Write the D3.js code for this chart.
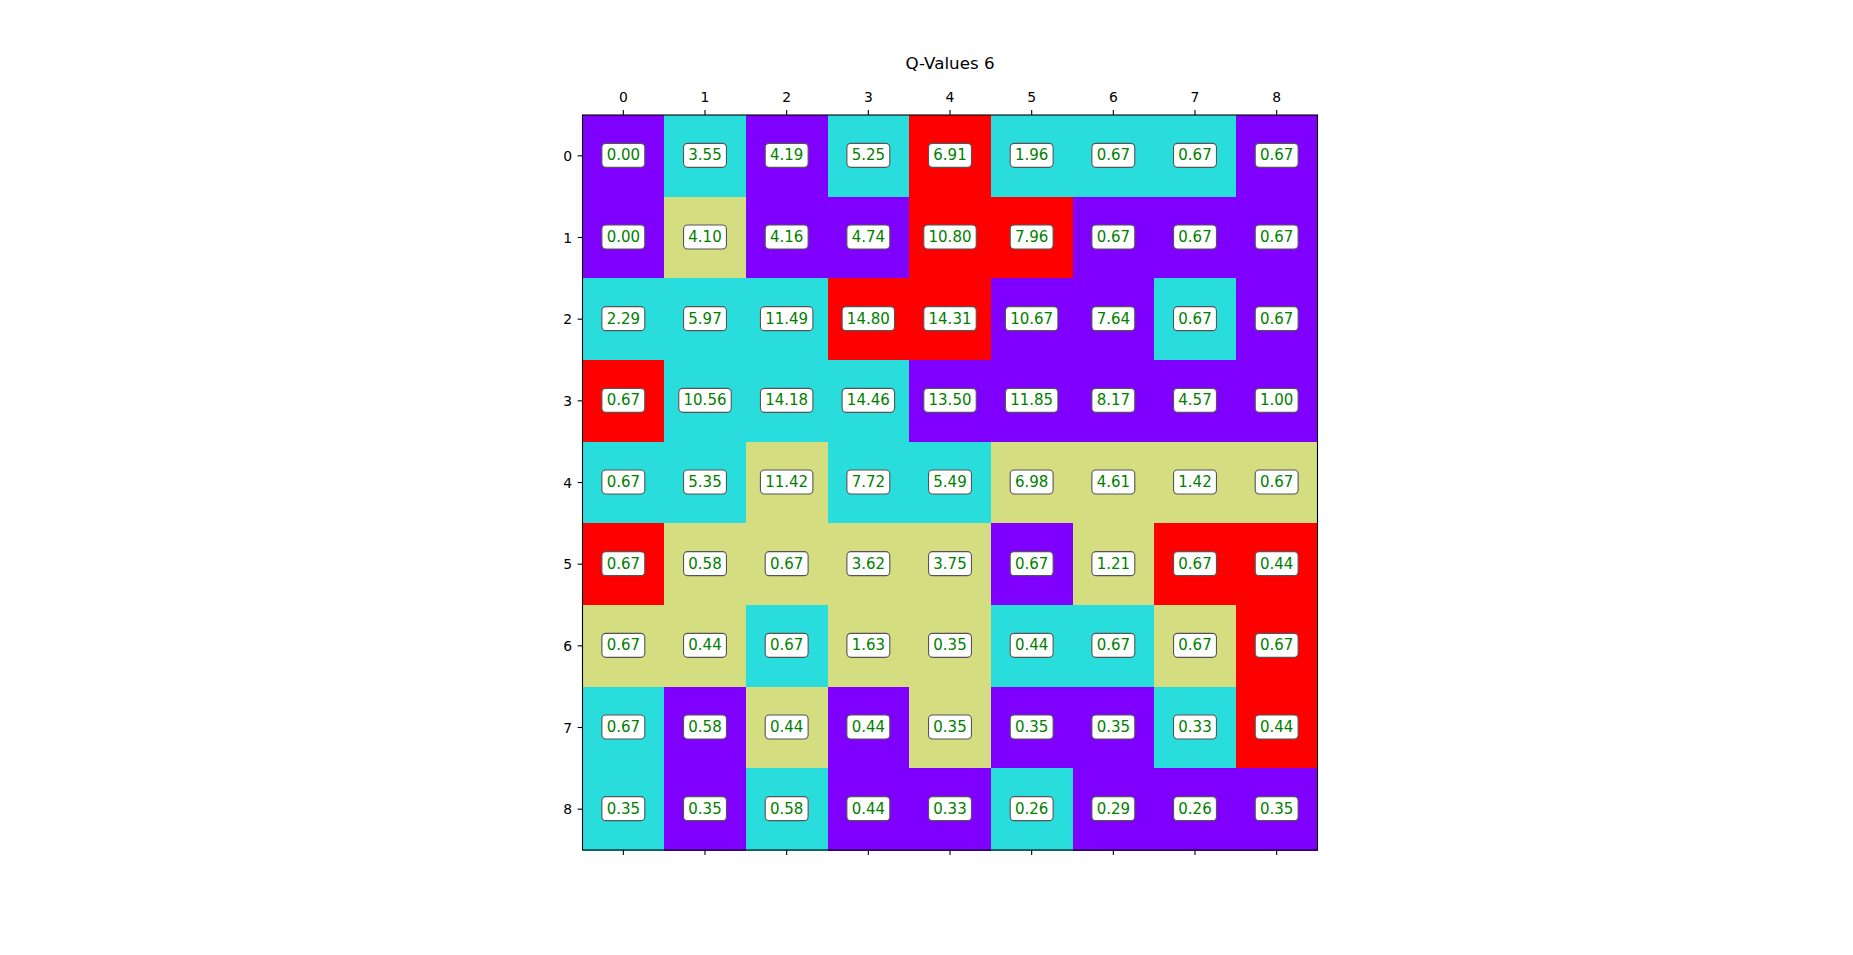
<!DOCTYPE html>
<html>
<head>
<meta charset="utf-8">
<script src="https://cdn.jsdelivr.net/npm/d3@7"></script>
<style>
  html, body { margin: 0; padding: 0; background: #fff; }
  svg { display: block; }
  text { font-family: "DejaVu Sans", sans-serif; }
</style>
</head>
<body>
<svg id="chart" width="1853" height="955"></svg>
<script>
// ---- data ----
const title = "Q-Values 6";
const colLabels = ["0","1","2","3","4","5","6","7","8"];
const rowLabels = ["0","1","2","3","4","5","6","7","8"];
const qValues = [
  [0.00, 3.55, 4.19, 5.25, 6.91, 1.96, 0.67, 0.67, 0.67],
  [0.00, 4.10, 4.16, 4.74, 10.80, 7.96, 0.67, 0.67, 0.67],
  [2.29, 5.97, 11.49, 14.80, 14.31, 10.67, 7.64, 0.67, 0.67],
  [0.67, 10.56, 14.18, 14.46, 13.50, 11.85, 8.17, 4.57, 1.00],
  [0.67, 5.35, 11.42, 7.72, 5.49, 6.98, 4.61, 1.42, 0.67],
  [0.67, 0.58, 0.67, 3.62, 3.75, 0.67, 1.21, 0.67, 0.44],
  [0.67, 0.44, 0.67, 1.63, 0.35, 0.44, 0.67, 0.67, 0.67],
  [0.67, 0.58, 0.44, 0.44, 0.35, 0.35, 0.35, 0.33, 0.44],
  [0.35, 0.35, 0.58, 0.44, 0.33, 0.26, 0.29, 0.26, 0.35]
];
// best action per cell (0..3), shown with the rainbow colormap
const bestAction = [
  [0,1,0,1,3,1,1,1,0],
  [0,2,0,0,3,3,0,0,0],
  [1,1,1,3,3,0,0,1,0],
  [3,1,1,1,0,0,0,0,0],
  [1,1,2,1,1,2,2,2,2],
  [3,2,2,2,2,0,2,3,3],
  [2,2,1,2,2,1,1,2,3],
  [1,0,2,0,2,0,0,1,3],
  [1,0,1,0,0,1,0,0,0]
];

// ---- layout ----
const svg = d3.select("#chart");
const plotLeft = 582.5, plotTop = 115, plotSize = 735;

// matplotlib "rainbow" colormap
function rainbow(t) {
  const r = Math.min(1, Math.abs(2 * t - 0.5));
  const g = Math.sin(Math.PI * t);
  const b = Math.cos(Math.PI * t / 2);
  return d3.rgb(r * 255, g * 255, b * 255).toString();
}
const color = d3.scaleLinear().domain([0, 3]).range([0, 1]);

const x = d3.scaleBand().domain(colLabels).range([plotLeft, plotLeft + plotSize]).padding(0);
const y = d3.scaleBand().domain(rowLabels).range([plotTop, plotTop + plotSize]).padding(0);

const cells = [];
qValues.forEach((row, i) => row.forEach((v, j) => cells.push({ r: rowLabels[i], c: colLabels[j], v, a: bestAction[i][j] })));

const g = svg.append("g");
g.selectAll("rect.cell").data(cells).enter().append("rect")
  .attr("class", "cell")
  .attr("x", d => x(d.c))
  .attr("y", d => y(d.r))
  .attr("width", x.bandwidth() + 0.5)
  .attr("height", y.bandwidth() + 0.5)
  .attr("fill", d => rainbow(color(d.a)))
  .attr("shape-rendering", "crispEdges");

// annotations
const ann = g.selectAll("g.ann").data(cells).enter().append("g")
  .attr("class", "ann")
  .attr("transform", d => `translate(${x(d.c) + x.bandwidth() / 2},${y(d.r) + y.bandwidth() / 2})`);
ann.append("rect");
ann.append("text")
  .attr("text-anchor", "middle")
  .attr("y", 4.6)
  .attr("fill", "#008000")
  .attr("font-size", "15px")
  .text(d => d.v.toFixed(2));
ann.each(function () {
  const t = d3.select(this).select("text");
  const w = t.node().getComputedTextLength() + 9.5;
  const h = 24;
  d3.select(this).select("rect")
    .attr("x", -w / 2).attr("y", -h / 2 - 0.5)
    .attr("width", w).attr("height", h)
    .attr("rx", 4).attr("ry", 4)
    .attr("fill", "#fff")
    .attr("stroke", "#555")
    .attr("stroke-width", 1.1);
});

// frame
svg.append("rect")
  .attr("x", plotLeft).attr("y", plotTop).attr("width", plotSize).attr("height", plotSize)
  .attr("fill", "none").attr("stroke", "#000").attr("stroke-width", 1.1);

// axes
const tickLen = 4.9;
const axTop = svg.append("g").attr("transform", `translate(0,${plotTop})`)
  .call(d3.axisTop(x).tickSize(tickLen).tickPadding(4.9).tickSizeOuter(0));
const axBottom = svg.append("g").attr("transform", `translate(0,${plotTop + plotSize})`)
  .call(d3.axisBottom(x).tickSize(tickLen).tickFormat("").tickSizeOuter(0));
const axLeft = svg.append("g").attr("transform", `translate(${plotLeft},0)`)
  .call(d3.axisLeft(y).tickSize(tickLen).tickPadding(5.5).tickSizeOuter(0));
[axTop, axBottom, axLeft].forEach(a => {
  a.select(".domain").remove();
  a.selectAll(".tick line").attr("stroke", "#000").attr("stroke-width", 1.1);
  a.selectAll(".tick text").attr("font-family", "DejaVu Sans, sans-serif").attr("font-size", "13.9px").attr("fill", "#000");
});
axTop.selectAll(".tick text").attr("dy", null).attr("y", -12.7);
axLeft.selectAll(".tick text").attr("dy", "0.36em");

// title
svg.append("text")
  .attr("x", plotLeft + plotSize / 2)
  .attr("y", 69)
  .attr("text-anchor", "middle")
  .attr("font-size", "16.7px")
  .attr("fill", "#000")
  .text(title);
</script>
</body>
</html>
